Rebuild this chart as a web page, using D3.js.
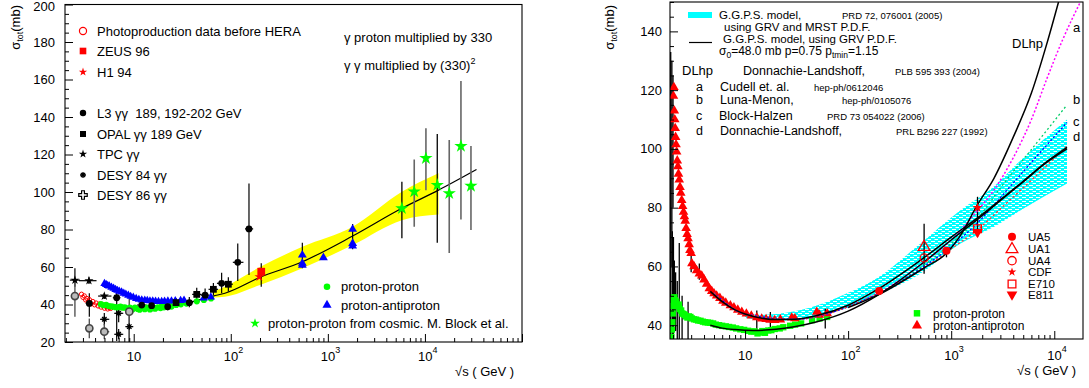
<!DOCTYPE html>
<html><head><meta charset="utf-8">
<script src="https://cdn.jsdelivr.net/npm/d3@7"></script>
<style>body{margin:0;background:#fff} text{font-family:"Liberation Sans",Arial,sans-serif;fill:#000}</style>
</head><body>
<script>
// ================= DATA : left panel =================
const lTickX = [10, 100, 1000, 10000];
const lTickY = [20, 40, 60, 80, 100, 120, 140, 160, 180, 200];
const lBandS  = [66, 87, 200, 546, 1800, 5790, 13800];
const lBandLo = [43.8, 44.2, 50.4, 59.3, 71.7, 85, 88];
const lBandHi = [46.8, 49.5, 60, 70.8, 81.5, 100.2, 110];
const lFitS = [4.5, 7, 10, 20, 40, 66, 87, 200, 546, 1800, 5790, 13800, 34000];
const lFitV = [39.5, 38.8, 38.7, 39.3, 41.5, 44.5, 46, 54.5, 62.8, 76.5, 91.3, 101, 112];
const lPP = [[4.6,40.2],[4.9,39.6],[5.2,39.8],[5.5,39.2],[5.8,39.0],[6.1,38.9],[6.5,38.6],[6.9,38.4],[7.3,38.9],[7.7,38.3],[8.1,38.5],[8.6,37.6],[9.1,38.4],[9.7,37.4],[10.3,38.3],[11,37.6],[11.5,37.2],[12.3,38.2],[13,37.5],[13.8,38.4],[14.7,37.4],[15.6,38.4],[16.6,37.8],[17.7,38.5],[18.9,38.1],[19.4,39.0],[20.5,38.5],[21.7,39.1],[23.5,39.4],[24.5,38.9],[27.4,39.8],[30.6,40.1],[35,40.5],[44.7,41.7],[52.8,42.4],[62.5,43.2]];
const lPbarP = [[5.0,51.2],[5.2,50.6],[5.4,50.1],[5.6,49.8],[5.9,49.2],[6.2,48.6],[6.5,48.0],[6.8,47.5],[7.1,47.0],[7.5,46.6],[7.9,46.0],[8.3,45.5],[8.8,44.9],[9.3,44.3],[9.9,43.8],[10.6,43.2],[11.3,42.7],[12.1,42.4],[13,42.2],[13.8,42.1],[14.7,41.9],[15.7,41.8],[16.8,41.7],[18,41.6],[19.4,41.6],[20.8,41.7],[22.5,41.8],[24.5,41.9],[26.8,42.0],[30.4,42.1],[33,42.3],[52.6,43.4],[62.3,44.0]];
const lPbarPHi = [[546,66.4],[546,62],[546,61],[900,65],[1800,80.1],[1800,72.6],[1800,71.2]];
const lPbarPErr = [[546,0,59.3,73],[1800,0,69.5,83]];
const photo = [[2.9,45.5],[3.0,43.8],[3.1,44.6],[3.2,42.4],[3.3,43.2],[3.4,41.5],[3.5,42.6],[3.65,40.4],[3.8,41.6],[3.95,39.8],[4.1,40.8],[4.3,39.2],[4.45,40.3],[4.6,38.6],[4.8,39.5],[5.0,38.0],[5.2,38.9],[5.4,37.6],[5.6,38.3],[5.8,37.9]];
const zeus = [[206,57.5,49.5,62]];
const h1 = [[197,54.8]];
// [sqrt s, sigma, sigLo, sigHi, sLo, sHi]
const l3 = [[3.49,40.6,33.5,46,3.2,3.8],[6.68,43.6,20.5,49.5,6.1,7.3],[12.1,39.7,36.5,43,10.8,13.6],[15.3,39.4,36,43,13.6,17],[22.4,38.8,37,40.8,20,25],[37.4,41,38.5,44,34,41],[54.4,45,42,48.5,49,60],[80.5,51.3,46,57,72,90],[118,62.5,52.5,72.6,105,135],[154,80.3,55.7,104.6,140,170]];
const opal = [[27.3,41,38.5,43.5,24.5,30.5],[44.6,45.4,42,49,40,50],[66.2,48.1,45,51.5,59,74],[94.4,50.8,47,54.5,85,105]];
const tpc = [[2.48,53,49.5,59.3,2.2,2.8],[3.46,52.7,51,54.5,2.73,4.14],[4.98,44.5,43,46,4.3,5.9]];
const desy84 = [[4.98,32.1,29,35.5,4.5,5.6],[7.0,35.3,30.5,40,6.3,7.8],[7.0,24.1,21.5,27,6.3,7.8],[9.0,28.2,20,36,8.2,9.9]];
const desy86 = [[2.48,44.5,33.5,52.2,2.3,2.7],[3.49,27.3,22,32.5,3.2,3.8],[4.98,25.5,21.5,29.5,4.5,5.6],[9.0,36.2,20,46,8.2,9.9]];
const cosmicA = [[5790,91.3,75.3,105.5],[13400,103.7,72.9,130.9]];
const cosmicB = [[7760,100.2,81.5,117.4],[10240,118,101,134],[17800,99.3,67.5,127.7],[23500,124.5,85.4,159.2],[29800,103.2,79.7,124.5]];
const legL = ["Photoproduction data before HERA","ZEUS 96","H1 94","L3 γγ\u00a0\u00a0189, 192-202 GeV","OPAL γγ 189 GeV","TPC γγ","DESY 84 γγ","DESY 86 γγ"];

// ================= DATA : right panel =================
const rTickX = [10, 100, 1000, 10000];
const rTickY = [40, 60, 80, 100, 120, 140];
const rBandS  = [10, 14, 20, 43, 100, 190, 500, 1220, 2560, 4680, 13300];
const rBandLo = [42.5, 41.8, 41.5, 42.5, 46, 50.2, 57.5, 67.7, 73.3, 79, 88.2];
const rBandHi = [44.5, 43.5, 43.8, 46, 51, 56, 67.7, 79, 87, 96, 110];
const ggpsPbarS = [4.6, 6, 8, 10, 15, 20, 30, 50, 100, 200, 546, 1000, 1800, 3200, 5000, 8000, 13300];
const ggpsPbarV = [51.5, 48, 45.2, 43.8, 42.3, 41.9, 42, 43.3, 46.8, 52.5, 63, 70, 76.5, 83.5, 89, 95, 100.5];
const ggpsPpS = [4.6, 6, 8, 12, 20, 30, 50, 100, 200, 546, 1000, 1800, 3200, 5000, 8000, 13300];
const ggpsPpV = [40, 39, 38.5, 38.2, 38.6, 39.5, 41.2, 44.8, 50.5, 61.5, 69, 76, 83.2, 88.8, 94.8, 100];
const dlhpS = [100, 200, 546, 900, 1200, 1800, 2600, 4000, 6000, 8500, 11000];
const dlhpV = [46, 50.5, 59.5, 64.5, 70, 81, 90, 104, 119, 136, 150];
const aS = [5, 10, 30, 100, 200, 546, 1000, 1800, 2600, 4000, 6000, 8500, 12000, 17900];
const aV = [51, 43.8, 42, 46.3, 51, 61.5, 69, 79, 86, 97, 110, 124, 137, 150];
const bcdS = [5, 10, 30, 100, 200, 546, 1000, 1800, 3200, 5850, 13300];
const bV = [51, 43.8, 42, 46.3, 51, 60.5, 67.8, 76.3, 88, 99.3, 115];
const cV = [51, 43.8, 42, 46.3, 51, 60, 66.8, 74.8, 84.5, 95, 109];
const dV = [51, 43.8, 42, 46.3, 51, 59.5, 66, 72.5, 80.5, 89, 101];
const rPbarP = [[2.02,118],[2.04,121],[2.06,113],[2.08,110],[2.1,107],[2.12,104],[2.14,101.5],[2.17,99],[2.2,96],[2.23,94],[2.26,91.5],[2.3,89.5],[2.34,87],[2.38,85],[2.43,82.5],[2.48,80.5],[2.53,78.5],[2.58,77],[2.63,75.5],[2.68,73],[2.74,71],[2.8,69.5],[2.87,67.5],[2.92,65.5],[3.0,64.5],[3.05,61],[3.2,60],[3.39,58.6],[3.6,57.5],[3.8,56.8],[4.0,55.5],[4.24,54],[4.5,52.5],[4.75,51.6],[5.0,50.8],[5.3,50],[5.7,49.2],[6.1,48.2],[6.5,47.6],[7.2,46.7],[7.8,46],[8.5,45.2],[9.3,44.5],[10.3,43.9],[11.5,43.2],[13,42.6],[14.5,42.2],[16,42],[17.5,41.8],[19.4,41.7],[22,41.9],[28.4,42.5],[30.4,42.3],[49.6,44.5],[52.6,43.5],[62.7,44]];
const rPP = [[1.93,36],[1.95,38.5],[1.97,41],[1.99,44],[2.01,46.5],[2.03,48.5],[2.06,49.5],[2.09,48.5],[2.12,47.5],[2.15,48],[2.19,47],[2.23,46.5],[2.28,47],[2.33,45.5],[2.4,45],[2.46,44],[2.53,43.8],[2.6,43.5],[2.68,43],[2.76,42.6],[2.85,43],[2.95,42.8],[3.05,42.3],[3.2,42],[3.35,41.9],[3.5,41.6],[3.7,41.5],[3.9,41.2],[4.1,41],[4.35,40.9],[4.6,40.8],[4.9,40.6],[5.2,40.2],[5.6,40],[6.0,39.8],[6.5,39.6],[7,39.4],[7.6,39.2],[8.2,38.9],[9,38.6],[9.8,38.4],[10.7,38.1],[11.5,37.8],[12.3,37.9],[13.2,37.2],[13.8,37.5],[14.7,38],[15.6,37.4],[16.8,38.2],[18,38.3],[19.4,38.7],[21.7,38.9],[23.5,39.3],[27.4,39.8],[30.6,40.2],[35,40.6],[44.7,41.7],[52.8,42.3],[62.5,42.8]];
// [sqrt s, 0, lo, hi]
const rErr = [[1.9,0,35.3,133],[1.95,0,60,130],[2.0,0,80,125],[1.97,0,35.3,72],[2.02,0,36,70],[2.06,0,40,62],[2.12,0,38,58],[2.2,0,35.3,55],[2.3,0,35.3,68],[2.45,0,35.3,50],[2.8,0,35.3,48],[3.0,0,58,64],[3.6,0,55.5,61],[13,0,38.3,45],[17.6,0,39.4,44.5],[60,0,38.9,45.6],[546,0,57.5,74.5],[900,0,63.1,66.5],[1800,0,70,83.7]];
const ua5 = [[200,51.6],[900,65.3]];
const ua1 = [[546,66.6]];
const ua4 = [[546,62.9]];
const cdf = [[1800,80.0]];
const e710 = [[1800,72.8]];
const e811 = [[1800,71.7]];
const legR = ["UA5","UA1","UA4","CDF","E710","E811"];

// ================= DRAWING =================
const svg = d3.select("body").append("svg").attr("width",1089).attr("height",388);
const defs = svg.append("defs");
const pat = defs.append("pattern").attr("id","hatch").attr("patternUnits","userSpaceOnUse").attr("width",7).attr("height",4);
pat.append("rect").attr("width",7).attr("height",4).attr("fill","#00ffff");
pat.append("rect").attr("x",0).attr("y",1).attr("width",4).attr("height",1).attr("fill","#ffffff");
pat.append("rect").attr("x",3.5).attr("y",3).attr("width",3.5).attr("height",1).attr("fill","#ffffff");

const xL = d3.scaleLog().domain([1.96,1e5]).range([65,522]);
const yL = d3.scaleLinear().domain([20,200]).range([342,4.5]);
const xR = d3.scaleLog().domain([1.87,1.9e4]).range([670,1083]);
const yR = d3.scaleLinear().domain([35.3,150]).range([339,2]);

function clip(id,x,y){
  defs.append("clipPath").attr("id",id).append("rect")
    .attr("x",x.range()[0]).attr("y",y.range()[1]).attr("width",x.range()[1]-x.range()[0]).attr("height",y.range()[0]-y.range()[1]);
  return svg.append("g").attr("clip-path",`url(#${id})`);
}
const gL = clip("cl",xL,yL);
const gR = clip("cr",xR,yR);

const zip = (a,b)=>a.map((v,i)=>[v,b[i]]);
function curve(g,x,y,S,V,color,w,dash){
  g.append("path").datum(zip(S,V)).attr("fill","none").attr("stroke",color).attr("stroke-width",w)
   .attr("stroke-dasharray",dash||null)
   .attr("d",d3.line().x(d=>x(d[0])).y(d=>y(d[1])).curve(d3.curveMonotoneX));
}
function band(g,x,y,S,Lo,Hi,fill){
  g.append("path").datum(S.map((s,i)=>[s,Lo[i],Hi[i]])).attr("fill",fill).attr("stroke","none")
   .attr("d",d3.area().x(d=>x(d[0])).y0(d=>y(d[1])).y1(d=>y(d[2])).curve(d3.curveMonotoneX));
}
function vbars(g,x,y,data,color,w){
  g.selectAll(null).data(data).enter().append("line")
   .attr("x1",d=>x(d[0])).attr("x2",d=>x(d[0])).attr("y1",d=>y(d[2])).attr("y2",d=>y(d[3]))
   .attr("stroke",color).attr("stroke-width",w||1.2);
}
function hbars(g,x,y,data,color,w,dash){
  g.selectAll(null).data(data).enter().append("line")
   .attr("x1",d=>x(d[4])).attr("x2",d=>x(d[5])).attr("y1",d=>y(d[1])).attr("y2",d=>y(d[1]))
   .attr("stroke",color).attr("stroke-width",w||1.2).attr("stroke-dasharray",dash||null);
}
const symAst = {draw(ctx,size){const r=Math.sqrt(size)/2;for(let i=0;i<4;i++){const a=i*Math.PI/4;ctx.moveTo(r*Math.cos(a),r*Math.sin(a));ctx.lineTo(-r*Math.cos(a),-r*Math.sin(a));}}};
function pts(g,x,y,data,type,size,fill,stroke,sw,rot){
  g.selectAll(null).data(data).enter().append("path")
   .attr("d",d3.symbol().type(type).size(size))
   .attr("transform",d=>`translate(${x(d[0])},${y(d[1])})`+(rot?` rotate(${rot})`:""))
   .attr("fill",fill).attr("stroke",stroke||"none").attr("stroke-width",sw||1);
}
function mark(g,px,py,type,size,fill,stroke,sw,rot){
  g.append("path").attr("d",d3.symbol().type(type).size(size)())
   .attr("transform",`translate(${px},${py})`+(rot?` rotate(${rot})`:""))
   .attr("fill",fill).attr("stroke",stroke||"none").attr("stroke-width",sw||1);
}

function logTicks(dom){
  const out=[];
  for(let e=Math.floor(Math.log10(dom[0]));e<=Math.ceil(Math.log10(dom[1]));e++)
    for(let m=1;m<=9;m++){const v=m*Math.pow(10,e); if(v>=dom[0]*0.999&&v<=dom[1]*1.001) out.push(v);}
  return out;
}
function axes(x,y,yMajor,yMinorStep,xLabels,yLabX,xLabY){
  const [x0,x1]=x.range(), [y0,y1]=y.range();
  svg.append("rect").attr("x",x0).attr("y",y1).attr("width",x1-x0).attr("height",y0-y1)
     .attr("fill","none").attr("stroke","#000").attr("stroke-width",1.1);
  const all=logTicks(x.domain());
  const maj=all.filter(v=>Math.abs(Math.log10(v)-Math.round(Math.log10(v)))<1e-6);
  const min=all.filter(v=>!maj.includes(v));
  const style=g=>{g.select(".domain").remove(); g.selectAll("line").attr("stroke","#000").attr("stroke-width",1);};
  svg.append("g").attr("transform",`translate(0,${y0})`).call(d3.axisBottom(x).tickValues(maj).tickSizeInner(-8).tickSizeOuter(0).tickFormat("")).call(style);
  svg.append("g").attr("transform",`translate(0,${y0})`).call(d3.axisBottom(x).tickValues(min).tickSizeInner(-4).tickSizeOuter(0).tickFormat("")).call(style);
  const yd=y.domain(), ymin=d3.range(Math.ceil(yd[0]/yMinorStep)*yMinorStep, yd[1]+0.001, yMinorStep).filter(v=>!yMajor.includes(v));
  svg.append("g").attr("transform",`translate(${x0},0)`).call(d3.axisLeft(y).tickValues(yMajor).tickSizeInner(-8).tickSizeOuter(0).tickFormat("")).call(style);
  svg.append("g").attr("transform",`translate(${x0},0)`).call(d3.axisLeft(y).tickValues(ymin).tickSizeInner(-4).tickSizeOuter(0).tickFormat("")).call(style);
  yMajor.forEach(v=>svg.append("text").attr("x",yLabX).attr("y",Math.max(y(v)+4.5,10.5)).attr("text-anchor","end").attr("font-size",13).text(v));
  xLabels.forEach(v=>{
    const e=Math.round(Math.log10(v));
    const t=svg.append("text").attr("x",x(v)-7).attr("y",xLabY).attr("font-size",13);
    t.append("tspan").text("10");
    if(e>1) t.append("tspan").attr("dy",-8).attr("font-size",9).text(e);
  });
}

// ---------- LEFT PANEL ----------
band(gL,xL,yL,lBandS,lBandLo,lBandHi,"#ffff00");
curve(gL,xL,yL,lFitS,lFitV,"#000",1.2);
vbars(gL,xL,yL,cosmicB,"#666",1.6);
vbars(gL,xL,yL,cosmicA,"#000",1.3);
vbars(gL,xL,yL,lPbarPErr,"#000",1.2);
[l3,opal,tpc].forEach(d=>{vbars(gL,xL,yL,d,"#000",1.2);hbars(gL,xL,yL,d,"#000",1.2);});
vbars(gL,xL,yL,desy84,"#000",1.2);hbars(gL,xL,yL,desy84,"#000",1.2);
vbars(gL,xL,yL,desy86,"#555",1.4);hbars(gL,xL,yL,desy86,"#555",1.4);
vbars(gL,xL,yL,zeus,"#000",1.2);
pts(gL,xL,yL,photo,d3.symbolCircle,14,"none","#ff0000",1);
pts(gL,xL,yL,lPP,d3.symbolCircle,30,"#00ff00");
pts(gL,xL,yL,lPbarP,d3.symbolTriangle,30,"#0000ff");
pts(gL,xL,yL,lPbarPHi,d3.symbolTriangle,34,"#0000ff");
pts(gL,xL,yL,zeus,d3.symbolSquare,60,"#ff0000");
pts(gL,xL,yL,h1,d3.symbolStar,30,"#ff0000");
pts(gL,xL,yL,l3,d3.symbolCircle,36,"#000");
pts(gL,xL,yL,opal,d3.symbolSquare,46,"#000");
pts(gL,xL,yL,tpc,d3.symbolStar,26,"#000");
pts(gL,xL,yL,desy84,symAst,40,"none","#000",1.3);
pts(gL,xL,yL,desy86,d3.symbolCircle,40,"#bbb","#444",1.6);
pts(gL,xL,yL,cosmicA.concat(cosmicB),d3.symbolStar,55,"#00ff00");
axes(xL,yL,lTickY,5,lTickX,55,361);

// left legend
const legLy=[31,51,72,113,134,154,175,195];
const legLm=[[d3.symbolCircle,40,"none","#ff0000",1.2],[d3.symbolSquare,44,"#ff0000"],[d3.symbolStar,22,"#ff0000"],[d3.symbolCircle,32,"#000"],[d3.symbolSquare,36,"#000"],[d3.symbolStar,22,"#000"],[symAst,36,"none","#000",1.3],[d3.symbolCross,40,"#fff","#000",1.2]];
legL.forEach((t,i)=>{
  const m=legLm[i]; mark(svg,83,legLy[i],m[0],m[1],m[2],m[3],m[4]);
  svg.append("text").attr("x",97).attr("y",legLy[i]+4.5).attr("font-size",13).text(t);
});
svg.append("text").attr("x",344).attr("y",42).attr("font-size",13).text("γ proton multiplied by 330");
const tg=svg.append("text").attr("x",344).attr("y",70).attr("font-size",13);
tg.append("tspan").text("γ γ multiplied by (330)");
tg.append("tspan").attr("dy",-6).attr("font-size",9).text("2");
mark(svg,327,286.7,d3.symbolCircle,34,"#00ff00");
svg.append("text").attr("x",341).attr("y",291).attr("font-size",13).text("proton-proton");
mark(svg,327,305,d3.symbolTriangle,36,"#0000ff");
svg.append("text").attr("x",341).attr("y",309.5).attr("font-size",13).text("proton-antiproton");
mark(svg,255,323.3,d3.symbolStar,30,"#00ff00");
svg.append("text").attr("x",268).attr("y",327.5).attr("font-size",13).text("proton-proton from cosmic. M. Block et al.");
svg.append("text").attr("x",455).attr("y",376).attr("font-size",13).text("√s ( GeV )");
function ytitle(x){
  const t=svg.append("text").attr("transform",`translate(${x},5) rotate(-90)`).attr("text-anchor","end").attr("font-size",13);
  t.append("tspan").text("σ");
  t.append("tspan").attr("dy",3).attr("font-size",9).text("tot");
  t.append("tspan").attr("dy",-3).text("(mb)");
}
ytitle(20);

// ---------- RIGHT PANEL ----------
band(gR,xR,yR,rBandS,rBandLo,rBandHi,"url(#hatch)");
vbars(gR,xR,yR,rErr,"#000",1.3);
pts(gR,xR,yR,rPP,d3.symbolSquare,40,"#00ff00");
pts(gR,xR,yR,rPbarP,d3.symbolTriangle,40,"#ff0000");
curve(gR,xR,yR,aS,aV,"#ff00ff",1.5,"2,2");
curve(gR,xR,yR,bcdS,bV,"#00cc66",1.3,"2,2.5");
curve(gR,xR,yR,bcdS,cV,"#0000ff",1.3,"2,2");
curve(gR,xR,yR,bcdS,dV,"#ff3333",1.3,"2,2.5");
curve(gR,xR,yR,ggpsPbarS,ggpsPbarV,"#000",1.5);
curve(gR,xR,yR,ggpsPpS,ggpsPpV,"#000",1.5);
curve(gR,xR,yR,dlhpS,dlhpV,"#000",1.5);
pts(gR,xR,yR,ua5,d3.symbolCircle,50,"#ff0000");
pts(gR,xR,yR,ua1,d3.symbolTriangle,60,"none","#ff0000",1.3);
pts(gR,xR,yR,ua4,d3.symbolCircle,50,"none","#ff0000",1.3);
pts(gR,xR,yR,cdf,d3.symbolStar,30,"#ff0000");
pts(gR,xR,yR,e710,d3.symbolSquare,60,"none","#ff0000",1.3);
pts(gR,xR,yR,e811,d3.symbolTriangle,50,"#ff0000",null,1,180);
axes(xR,yR,rTickY,5,rTickX,662,359.5);

// right legends
svg.append("rect").attr("x",688).attr("y",12).attr("width",24).attr("height",6).attr("fill","#00ffff");
const T=(x,y,s,t)=>svg.append("text").attr("x",x).attr("y",y).attr("font-size",s).text(t);
T(719,18.5,11.5,"G.G.P.S. model,"); T(842,18.5,9.5,"PRD 72, 076001 (2005)");
T(724,30.5,11.5,"using GRV and MRST P.D.F.");
svg.append("line").attr("x1",689).attr("x2",712).attr("y1",42.5).attr("y2",42.5).attr("stroke","#000").attr("stroke-width",1.2);
T(723,42.5,11.5,"G.G.P.S. model, using GRV P.D.F.");
const ts=svg.append("text").attr("x",719).attr("y",55).attr("font-size",12);
ts.append("tspan").text("σ"); ts.append("tspan").attr("dy",3).attr("font-size",8.5).text("0");
ts.append("tspan").attr("dy",-3).text("=48.0 mb p=0.75 p");
ts.append("tspan").attr("dy",3).attr("font-size",8.5).text("tmin");
ts.append("tspan").attr("dy",-3).text("=1.15");
T(682,74.5,13,"DLhp"); T(743,75,12.5,"Donnachie-Landshoff,"); T(895,75,9.5,"PLB 595 393 (2004)");
T(696,91,12.5,"a"); T(720,91,12.5,"Cudell et. al."); T(814,90.5,9.5,"hep-ph/0612046");
T(696,103.5,12.5,"b"); T(720,104,12.5,"Luna-Menon,"); T(842,104,9.5,"hep-ph/0105076");
T(696,119.5,12.5,"c"); T(719,120,12.5,"Block-Halzen"); T(827,119.5,9.5,"PRD 73 054022 (2006)");
T(696,134.5,12.5,"d"); T(720,135,12.5,"Donnachie-Landshoff,"); T(896,134.5,9.5,"PRL B296 227 (1992)");
T(1012,48,13,"DLhp");
T(1073,32,13,"a"); T(1073,104,13,"b"); T(1073,126,13,"c"); T(1073,141,13,"d");
const legRy=[236.7,249.3,260.7,272,284,294.5];
const legRm=[[d3.symbolCircle,50,"#ff0000"],[d3.symbolTriangle,60,"none","#ff0000",1.3],[d3.symbolCircle,55,"none","#ff0000",1.3],[d3.symbolStar,24,"#ff0000"],[d3.symbolSquare,60,"none","#ff0000",1.3],[d3.symbolTriangle,50,"#ff0000",null,1,180]];
legR.forEach((t,i)=>{
  const m=legRm[i]; mark(svg,1012,legRy[i],m[0],m[1],m[2],m[3],m[4],m[5]);
  T(1028,legRy[i]+4,11.5,t);
});
mark(svg,917,313.3,d3.symbolSquare,42,"#00ff00");
T(933,317.5,12,"proton-proton");
mark(svg,917,325.5,d3.symbolTriangle,44,"#ff0000");
T(933,329.8,12,"proton-antiproton");
T(1017,374.5,13,"√s ( GeV )");
ytitle(614);
</script>
</body></html>
